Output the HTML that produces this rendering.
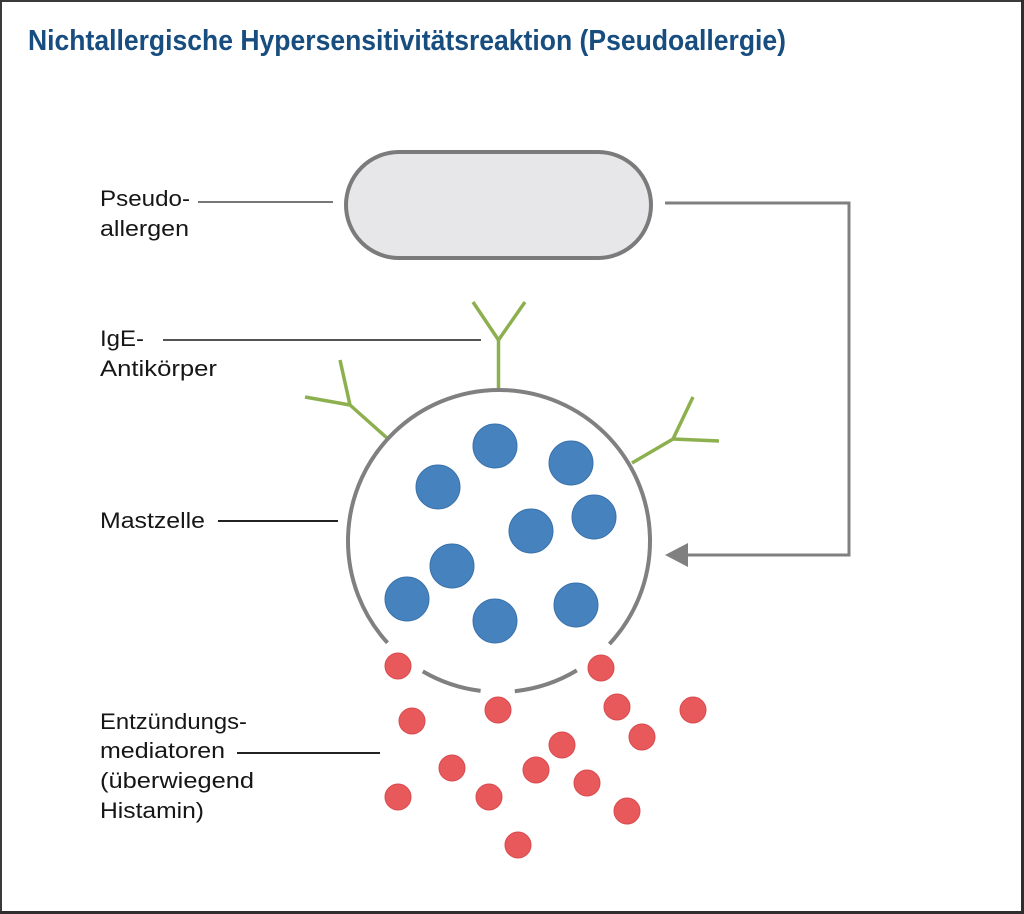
<!DOCTYPE html>
<html>
<head>
<meta charset="utf-8">
<style>
  html, body { margin: 0; padding: 0; background: #ffffff; }
  body { width: 1024px; height: 914px; overflow: hidden; }
  svg { display: block; }
  .lbl { font-family: "Liberation Sans", "DejaVu Sans", sans-serif; font-size: 22px; fill: #161616; }
</style>
</head>
<body>
<svg width="1024" height="914" viewBox="0 0 1024 914" xmlns="http://www.w3.org/2000/svg">
  <rect x="0" y="0" width="1024" height="914" fill="#ffffff"/>
  <!-- frame -->
  <rect x="0" y="0" width="1024" height="2" fill="#3a3a3a"/>
  <rect x="0" y="0" width="2" height="914" fill="#3a3a3a"/>
  <rect x="1021" y="0" width="3" height="914" fill="#2e2e2e"/>
  <rect x="0" y="911" width="1024" height="3" fill="#2e2e2e"/>

  <!-- title -->
  <text x="28" y="50" font-family="Liberation Sans, DejaVu Sans, sans-serif" font-weight="bold" font-size="29" fill="#184d80" textLength="758" lengthAdjust="spacingAndGlyphs">Nichtallergische Hypersensitivitätsreaktion (Pseudoallergie)</text>

  <!-- pseudoallergen pill -->
  <rect x="346" y="152" width="305" height="106" rx="53" ry="53" fill="#e7e7e9" stroke="#7b7b7b" stroke-width="4"/>

  <!-- connector -->
  <polyline points="665,203 849,203 849,555 686,555" fill="none" stroke="#808080" stroke-width="3"/>
  <polygon points="665,555 688,543 688,567" fill="#808080"/>

  <!-- antibodies -->
  <g stroke="#8db04f" stroke-width="3.5" fill="none" stroke-linecap="butt" stroke-linejoin="round">
    <polyline points="498.5,390 498.5,340"/>
    <polyline points="473,302 498.5,340 525,302"/>
    <polyline points="387,438 350,405"/>
    <polyline points="340,360 350,405 305,397"/>
    <polyline points="632,463 673,439"/>
    <polyline points="693,397 673,439 719,441"/>
  </g>

  <!-- mast cell membrane -->
  <g stroke="#808080" stroke-width="4" fill="none">
    <path d="M609.4,644 A151,151 0 1 0 387.5,642.8"/>
    <path d="M480.6,690.9 A151,151 0 0 1 422.8,671.4"/>
    <path d="M576.8,670.4 A151,151 0 0 1 514.8,691.2"/>
  </g>

  <!-- granules -->
  <g fill="#4682be" stroke="#3b72ab" stroke-width="1">
    <circle cx="495" cy="446" r="22"/>
    <circle cx="571" cy="463" r="22"/>
    <circle cx="438" cy="487" r="22"/>
    <circle cx="594" cy="517" r="22"/>
    <circle cx="531" cy="531" r="22"/>
    <circle cx="452" cy="566" r="22"/>
    <circle cx="407" cy="599" r="22"/>
    <circle cx="576" cy="605" r="22"/>
    <circle cx="495" cy="621" r="22"/>
  </g>

  <!-- mediators -->
  <g fill="#e8595c" stroke="#d84a4e" stroke-width="1">
    <circle cx="398" cy="666" r="13"/>
    <circle cx="601" cy="668" r="13"/>
    <circle cx="498" cy="710" r="13"/>
    <circle cx="412" cy="721" r="13"/>
    <circle cx="617" cy="707" r="13"/>
    <circle cx="693" cy="710" r="13"/>
    <circle cx="642" cy="737" r="13"/>
    <circle cx="562" cy="745" r="13"/>
    <circle cx="452" cy="768" r="13"/>
    <circle cx="536" cy="770" r="13"/>
    <circle cx="587" cy="783" r="13"/>
    <circle cx="398" cy="797" r="13"/>
    <circle cx="489" cy="797" r="13"/>
    <circle cx="627" cy="811" r="13"/>
    <circle cx="518" cy="845" r="13"/>
  </g>

  <!-- label leader lines -->
  <line x1="198" y1="202" x2="333" y2="202" stroke="#777" stroke-width="2"/>
  <line x1="163" y1="340" x2="481" y2="340" stroke="#555" stroke-width="2"/>
  <line x1="218" y1="521" x2="338" y2="521" stroke="#222" stroke-width="2"/>
  <line x1="237" y1="753" x2="380" y2="753" stroke="#222" stroke-width="2"/>

  <!-- labels -->
  <text class="lbl" x="100" y="206" textLength="90" lengthAdjust="spacingAndGlyphs">Pseudo-</text>
  <text class="lbl" x="100" y="236" textLength="89" lengthAdjust="spacingAndGlyphs">allergen</text>
  <text class="lbl" x="100" y="346" textLength="44" lengthAdjust="spacingAndGlyphs">IgE-</text>
  <text class="lbl" x="100" y="376" textLength="117" lengthAdjust="spacingAndGlyphs">Antikörper</text>
  <text class="lbl" x="100" y="528" textLength="105" lengthAdjust="spacingAndGlyphs">Mastzelle</text>
  <text class="lbl" x="100" y="729" textLength="147" lengthAdjust="spacingAndGlyphs">Entzündungs-</text>
  <text class="lbl" x="100" y="758" textLength="125" lengthAdjust="spacingAndGlyphs">mediatoren</text>
  <text class="lbl" x="100" y="788" textLength="154" lengthAdjust="spacingAndGlyphs">(überwiegend</text>
  <text class="lbl" x="100" y="818" textLength="104" lengthAdjust="spacingAndGlyphs">Histamin)</text>
</svg>
</body>
</html>
